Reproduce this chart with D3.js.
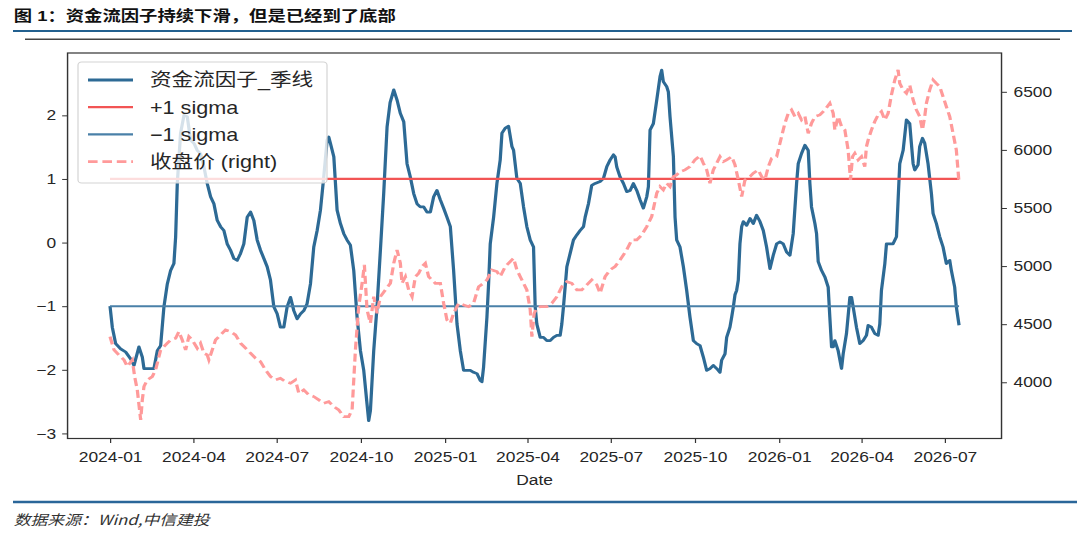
<!DOCTYPE html>
<html>
<head>
<meta charset="utf-8">
<script src="https://cdn.jsdelivr.net/npm/d3@7"></script>
<style>
  body { margin: 0; background: #fff; }
  svg { display: block; }
  text { font-family: "Liberation Sans", Arial, "Noto Sans CJK SC", sans-serif; fill: #262626; }
</style>
</head>
<body>
<div id="chart"></div>
<script>
// ---- data (days counted from 2024-01-01) ----
const factorDay = [
  0, 2.5, 6.2, 11.6, 17.1, 22.6, 26.2, 31.6, 35.3, 37.1,
  44.4, 48.0, 51.7, 55.3, 58.9, 62.6, 66.2, 69.8, 71.7, 73.5,
  77.1, 80.8, 84.4, 88.0, 91.7, 95.3, 98.9, 102.6, 106.2, 109.9,
  113.5, 117.1, 120.8, 124.4, 128.0, 131.7, 135.3, 139.0, 142.6, 146.2,
  149.9, 153.5, 157.1, 160.8, 164.4, 168.1, 171.7, 175.3, 179.0, 182.6,
  186.2, 189.9, 193.5, 197.2, 200.8, 204.4, 208.1, 211.7, 215.3, 219.0,
  222.6, 226.3, 229.9, 233.5, 237.2, 239.0, 240.8, 244.5, 248.1, 251.7,
  255.4, 259.0, 262.6, 266.3, 269.9, 273.6, 277.2, 280.8, 282.6, 284.5,
  288.1, 291.7, 295.4, 299.0, 302.7, 306.0, 310.0, 313.6, 317.2, 320.9,
  324.5, 328.1, 331.8, 335.4, 339.0, 342.7, 346.3, 350.0, 353.6, 357.2,
  360.9, 364.5, 368.1, 371.8, 375.4, 379.1, 382.7, 386.3, 390.0, 393.6,
  397.2, 400.9, 404.5, 406.3, 408.1, 411.8, 413.6, 415.4, 419.1, 422.7,
  426.3, 428.2, 431.8, 435.4, 439.1, 440.9, 444.5, 448.2, 451.8, 455.4,
  459.1, 462.7, 464.5, 466.3, 470.0, 473.6, 477.2, 480.9, 484.5, 488.2,
  491.8, 493.6, 495.4, 499.1, 502.7, 506.3, 510.0, 513.6, 517.3, 519.1,
  522.7, 526.3, 530.0, 535.4, 539.1, 542.7, 546.4, 550.0, 551.8, 553.6,
  557.3, 560.9, 564.5, 568.2, 571.8, 575.5, 579.1, 582.7, 586.4, 588.2,
  590.0, 593.6, 597.3, 600.9, 602.7, 604.5, 608.2, 610.0, 611.8, 615.5,
  617.3, 619.1, 622.7, 626.4, 630.0, 633.6, 637.3, 640.9, 644.6, 648.2,
  651.9, 655.5, 659.1, 662.8, 666.4, 668.2, 671.9, 673.7, 677.3, 679.2,
  681.0, 682.8, 684.6, 686.4, 688.2, 690.1, 691.9, 695.5, 699.2, 702.8,
  706.4, 710.1, 713.7, 717.3, 721.0, 724.6, 728.3, 731.9, 735.5, 739.2,
  742.8, 746.4, 750.1, 751.9, 755.5, 759.2, 762.8, 764.6, 766.4, 770.1,
  771.9, 773.7, 777.4, 781.0, 784.6, 786.4, 788.3, 790.1, 791.9, 795.5,
  799.2, 801.0, 804.6, 808.3, 810.1, 811.9, 815.5, 819.2, 822.8, 826.4,
  828.3, 831.9, 835.5, 839.2, 841.0, 842.8, 846.5, 848.3, 855.5, 859.2,
  861.0, 862.8, 866.5, 870.1, 873.7, 875.5, 877.4, 879.2, 882.8, 884.6,
  887.6, 890.1, 893.7, 897.4, 899.2, 902.8, 906.5, 910.1, 913.7, 917.4,
  919.2, 922.8, 924.6, 927.6
];
const factorValue = [
  -1.00, -1.33, -1.59, -1.67, -1.72, -1.83, -1.93, -1.64, -1.80, -1.98,
  -1.98, -1.98, -1.70, -1.62, -1.01, -0.65, -0.44, -0.33, 0.09, 0.93,
  1.72, 2.00, 1.98, 1.61, 1.56, 1.45, 1.40, 1.19, 0.93, 0.72,
  0.61, 0.35, 0.25, 0.19, -0.02, -0.12, -0.25, -0.28, -0.17, -0.02,
  0.40, 0.48, 0.35, 0.04, -0.12, -0.25, -0.38, -0.59, -1.01, -1.12,
  -1.33, -1.33, -1.01, -0.86, -1.07, -1.20, -1.12, -1.07, -0.96, -0.65,
  -0.07, 0.19, 0.51, 1.03, 1.61, 1.66, 1.56, 1.35, 0.51, 0.30,
  0.14, 0.04, -0.04, -0.44, -1.17, -1.70, -2.01, -2.54, -2.80, -2.64,
  -1.70, -1.01, -0.12, 0.77, 1.82, 2.20, 2.40, 2.24, 2.03, 1.90,
  1.24, 1.03, 0.77, 0.61, 0.56, 0.56, 0.48, 0.48, 0.72, 0.82,
  0.67, 0.54, 0.40, 0.25, -0.44, -1.28, -1.70, -2.01, -2.01, -2.01,
  -2.04, -2.06, -2.17, -2.19, -1.96, -1.17, -0.65, -0.02, 0.40, 0.93,
  1.30, 1.72, 1.80, 1.83, 1.51, 1.45, 1.01, 0.93, 0.56, 0.25,
  0.04, -0.07, -1.01, -1.28, -1.49, -1.49, -1.54, -1.54, -1.49, -1.46,
  -1.46, -1.28, -1.01, -0.38, -0.17, 0.04, 0.12, 0.19, 0.25, 0.40,
  0.61, 0.90, 0.93, 0.96, 1.01, 1.19, 1.30, 1.38, 1.35, 1.19,
  1.03, 0.93, 0.80, 0.82, 0.93, 0.82, 0.67, 0.54, 0.72, 0.88,
  1.77, 1.87, 2.24, 2.61, 2.71, 2.53, 2.45, 2.37, 1.98, 1.35,
  0.40, 0.04, -0.07, -0.38, -0.75, -1.17, -1.54, -1.59, -1.62, -1.80,
  -2.01, -1.98, -1.93, -1.98, -2.04, -1.85, -1.75, -1.49, -1.33, -1.17,
  -1.01, -0.82, -0.75, -0.59, -0.02, 0.25, 0.33, 0.27, 0.38, 0.30,
  0.43, 0.33, 0.19, -0.07, -0.41, -0.20, -0.02, 0.01, -0.02, -0.15,
  -0.20, 0.14, 0.93, 1.24, 1.40, 1.53, 1.45, 0.93, 0.56, 0.30,
  0.14, -0.30, -0.44, -0.54, -0.70, -1.17, -1.64, -1.64, -1.54, -1.70,
  -1.98, -1.75, -1.43, -0.86, -0.86, -1.01, -1.33, -1.59, -1.54, -1.46,
  -1.30, -1.33, -1.43, -1.46, -1.28, -0.75, -0.33, -0.02, -0.02, 0.09,
  0.67, 1.24, 1.45, 1.93, 1.87, 1.56, 1.24, 1.14, 1.22, 1.51,
  1.64, 1.56, 1.24, 0.77, 0.46, 0.30, 0.09, -0.07, -0.33, -0.28,
  -0.44, -0.70, -1.01, -1.30
];
const priceDay = [
  0, 4.4, 9.8, 15.3, 18.9, 24.4, 26.9, 29.8, 33.5, 35.3,
  37.1, 40.7, 46.2, 49.8, 55.3, 58.9, 62.6, 66.2, 71.7, 75.3,
  78.9, 82.6, 86.2, 89.9, 95.3, 98.9, 102.6, 106.2, 108.0, 111.7,
  115.3, 120.8, 126.2, 131.7, 137.1, 142.6, 148.1, 153.5, 159.0, 164.4,
  169.9, 175.3, 180.8, 186.2, 191.7, 197.2, 202.6, 206.3, 211.7, 217.2,
  222.6, 228.1, 233.5, 239.0, 244.5, 249.9, 255.4, 260.8, 264.5, 268.1,
  271.7, 275.4, 277.9, 280.8, 284.5, 288.1, 291.7, 295.4, 300.8, 306.3,
  310.0, 313.6, 317.2, 319.0, 322.7, 326.3, 330.0, 333.6, 337.2, 340.9,
  344.5, 348.1, 351.8, 355.4, 360.9, 364.5, 368.1, 371.8, 375.4, 380.9,
  386.3, 391.8, 397.2, 402.7, 408.1, 411.8, 417.2, 422.7, 426.3, 431.8,
  437.2, 440.9, 444.5, 448.2, 451.8, 455.4, 459.1, 460.9, 463.4, 466.3,
  470.0, 477.2, 482.7, 488.2, 493.6, 499.1, 504.5, 510.0, 515.4, 520.9,
  526.3, 531.8, 535.4, 540.9, 546.4, 551.8, 557.3, 564.5, 570.0, 575.5,
  580.9, 586.4, 591.8, 597.3, 600.9, 604.5, 608.2, 611.8, 615.5, 619.1,
  622.7, 628.2, 633.6, 639.1, 644.6, 648.2, 651.9, 655.5, 659.1, 662.8,
  666.4, 670.1, 673.7, 679.2, 682.8, 686.4, 690.1, 693.7, 699.2, 702.8,
  708.2, 711.9, 715.5, 719.2, 722.8, 728.3, 733.7, 737.3, 741.0, 744.6,
  748.3, 751.9, 755.5, 759.2, 762.8, 766.4, 770.1, 775.5, 781.0, 786.4,
  790.1, 791.9, 795.5, 799.2, 802.8, 806.4, 809.0, 811.2, 813.7, 817.4,
  821.0, 824.6, 826.4, 828.3, 831.9, 835.5, 839.2, 842.8, 846.5, 850.1,
  853.7, 857.4, 861.0, 862.8, 866.5, 870.1, 873.7, 877.4, 881.0, 884.6,
  887.6, 890.1, 891.9, 895.5, 899.2, 902.8, 906.5, 910.1, 913.7, 917.4,
  921.0, 924.6, 927.6
];
const priceValue = [
  4393, 4278, 4235, 4192, 4135, 4192, 4049, 3934, 3676, 3848,
  3963, 4020, 4049, 4106, 4278, 4307, 4336, 4364, 4379, 4436,
  4364, 4278, 4393, 4364, 4293, 4336, 4250, 4235, 4192, 4278,
  4364, 4407, 4450, 4436, 4407, 4336, 4293, 4250, 4207, 4178,
  4106, 4049, 4020, 4034, 4006, 3991, 4020, 3905, 3934, 3891,
  3877, 3848, 3819, 3834, 3791, 3762, 3704, 3704, 3762, 4278,
  4651, 4852, 5010, 4623, 4508, 4737, 4594, 4737, 4795, 4852,
  5024, 5139, 5024, 4852, 4909, 4795, 4737, 4909, 4938, 4996,
  5024, 4909, 4881, 4852, 4852, 4680, 4537, 4508, 4594, 4680,
  4666, 4651, 4680, 4823, 4852, 4881, 4967, 4953, 4909, 4996,
  5039, 5067, 4967, 4909, 4852, 4795, 4623, 4393, 4594, 4637,
  4651, 4651, 4680, 4737, 4823, 4866, 4852, 4795, 4795, 4838,
  4881, 4838, 4766, 4909, 4967, 4996, 5053, 5139, 5225, 5225,
  5268, 5340, 5426, 5627, 5684, 5655, 5713, 5684, 5770, 5785,
  5813, 5828, 5856, 5914, 5950, 5885, 5828, 5713, 5828, 5885,
  5942, 5899, 5914, 5942, 5871, 5742, 5598, 5742, 5770, 5799,
  5828, 5770, 5742, 5856, 5928, 5942, 6115, 6229, 6315, 6344,
  6287, 6315, 6258, 6287, 6143, 6229, 6287, 6301, 6344, 6401,
  6315, 6172, 6287, 6201, 6172, 6000, 5742, 5942, 5971, 5914,
  5942, 5856, 6028, 6086, 6172, 6244, 6301, 6330, 6258, 6315,
  6473, 6602, 6688, 6573, 6516, 6487, 6559, 6430, 6344, 6287,
  6172, 6287, 6401, 6516, 6602, 6573, 6545, 6459, 6373, 6287,
  6143, 6000, 5713
];
const sigmaUp = 1;
const sigmaDown = -1;
const leftTicks = [-3, -2, -1, 0, 1, 2];
const rightTicks = [4000, 4500, 5000, 5500, 6000, 6500];
const legendLabels = ["资金流因子_季线", "+1 sigma", "\u22121 sigma", "收盘价 (right)"];

// ---- layout ----
const width = 1080, height = 540;
// the reference picture is stretched sideways, so draw into a narrower
// viewBox and let the svg stretch it back out to 1080 wide
const stretch = 1.2;
const vw = width / stretch;
const plot = {left: 56.3, right: 834.6, top: 53, bottom: 438.5};

const svg = d3.select("#chart")
  .append("svg")
  .attr("width", width)
  .attr("height", height)
  .attr("viewBox", [0, 0, vw, height])
  .attr("preserveAspectRatio", "none");

const start = new Date(2024, 0, 1);
const toDate = d => new Date(start.getTime() + d * 864e5);

const factor = factorDay.map((d, i) => ({date: toDate(d), v: factorValue[i]}));
const price = priceDay.map((d, i) => ({date: toDate(d), v: priceValue[i]}));

// 5% padding on both sides like matplotlib autoscale
const dayMax = d3.max(factorDay);
const pad = dayMax * 0.05;
const x = d3.scaleTime()
  .domain([toDate(-pad), toDate(dayMax + pad)])
  .range([plot.left, plot.right]);
const yL = d3.scaleLinear().domain([-3.08, 2.98]).range([plot.bottom, plot.top]);
const yR = d3.scaleLinear().domain([3516, 6834]).range([plot.bottom, plot.top]);

// ---- header / footer ----
svg.append("text")
  .attr("x", 11.5).attr("y", 21)
  .attr("font-size", 15.3).attr("font-weight", 700)
  .style("fill", "#111")
  .text("图 1：资金流因子持续下滑，但是已经到了底部");

svg.append("line")
  .attr("x1", 13 / stretch).attr("x2", 1072 / stretch)
  .attr("y1", 31).attr("y2", 31)
  .attr("stroke", "#22608f").attr("stroke-width", 2);
svg.append("line")
  .attr("x1", 25 / stretch).attr("x2", 1060 / stretch)
  .attr("y1", 39.3).attr("y2", 39.3)
  .attr("stroke", "#444").attr("stroke-width", 1.5);

svg.append("line")
  .attr("x1", 13 / stretch).attr("x2", 1077 / stretch)
  .attr("y1", 502).attr("y2", 502)
  .attr("stroke", "#2a6699").attr("stroke-width", 2.5);
svg.append("text")
  .attr("x", 11.5).attr("y", 525)
  .attr("font-size", 14).attr("font-style", "italic")
  .style("font-family", "'Noto Sans CJK SC', sans-serif")
  .style("fill", "#333")
  .text("数据来源：Wind,中信建投");

// ---- axes ----
const styleAxis = g => {
  g.select(".domain").remove();
  g.selectAll(".tick line").attr("stroke", "#333").attr("stroke-width", 1);
  g.selectAll(".tick text").attr("font-size", 14.5).style("fill", "#262626");
};

svg.append("g")
  .attr("transform", `translate(0,${plot.bottom})`)
  .call(d3.axisBottom(x)
    .ticks(d3.timeMonth.every(3))
    .tickFormat(d3.timeFormat("%Y-%m"))
    .tickSize(4.5).tickPadding(9))
  .call(styleAxis);

svg.append("g")
  .attr("transform", `translate(${plot.left},0)`)
  .call(d3.axisLeft(yL).tickValues(leftTicks).tickFormat(d3.format("d"))
    .tickSize(4.5).tickPadding(5))
  .call(styleAxis);

svg.append("g")
  .attr("transform", `translate(${plot.right},0)`)
  .call(d3.axisRight(yR).tickValues(rightTicks).tickFormat(d3.format("d"))
    .tickSize(4.5).tickPadding(5.5))
  .call(styleAxis);

svg.append("text")
  .attr("x", (plot.left + plot.right) / 2).attr("y", 485)
  .attr("text-anchor", "middle").attr("font-size", 14.5)
  .text("Date");

// ---- lines ----
const lineL = d3.line().x(d => x(d.date)).y(d => yL(d.v));
const lineR = d3.line().x(d => x(d.date)).y(d => yR(d.v));

svg.append("path").datum(factor)
  .attr("d", lineL).attr("fill", "none")
  .attr("stroke", "#2d6a95").attr("stroke-width", 2.7)
  .attr("stroke-linejoin", "round");

svg.append("path").datum(factor.map(d => ({date: d.date, v: sigmaUp})))
  .attr("d", lineL).attr("fill", "none")
  .attr("stroke", "#f25454").attr("stroke-width", 2.2);

svg.append("path").datum(factor.map(d => ({date: d.date, v: sigmaDown})))
  .attr("d", lineL).attr("fill", "none")
  .attr("stroke", "#4a80a8").attr("stroke-width", 2.1);

svg.append("path").datum(price)
  .attr("d", lineR).attr("fill", "none")
  .attr("stroke", "#ff9a9a").attr("stroke-width", 2.7)
  .attr("stroke-dasharray", "8,4");

// frame
svg.append("rect")
  .attr("x", plot.left).attr("y", plot.top)
  .attr("width", plot.right - plot.left).attr("height", plot.bottom - plot.top)
  .attr("fill", "none").attr("stroke", "#333").attr("stroke-width", 1.2);

// ---- legend ----
const legendColors = ["#2d6a95", "#f25454", "#4a80a8", "#ff9a9a"];
const legend = svg.append("g");
legend.append("rect")
  .attr("x", 78 / stretch).attr("y", 62)
  .attr("width", (327 - 78) / stretch).attr("height", 121)
  .attr("rx", 3)
  .attr("fill", "#fff").attr("fill-opacity", 0.8)
  .attr("stroke", "#d4d4d4").attr("stroke-width", 1);

const rows = legend.selectAll("g.row")
  .data(legendLabels)
  .enter().append("g")
  .attr("class", "row")
  .attr("transform", (d, i) => `translate(0,${80 + i * 27.2})`);

rows.append("line")
  .attr("x1", 88 / stretch).attr("x2", 133 / stretch)
  .attr("stroke", (d, i) => legendColors[i])
  .attr("stroke-width", (d, i) => i === 0 || i === 3 ? 2.8 : 2.3)
  .attr("stroke-dasharray", (d, i) => i === 3 ? "8,4" : null);

rows.append("text")
  .attr("x", 150 / stretch).attr("dy", "0.36em")
  .attr("font-size", 18)
  .text(d => d);
</script>
</body>
</html>
